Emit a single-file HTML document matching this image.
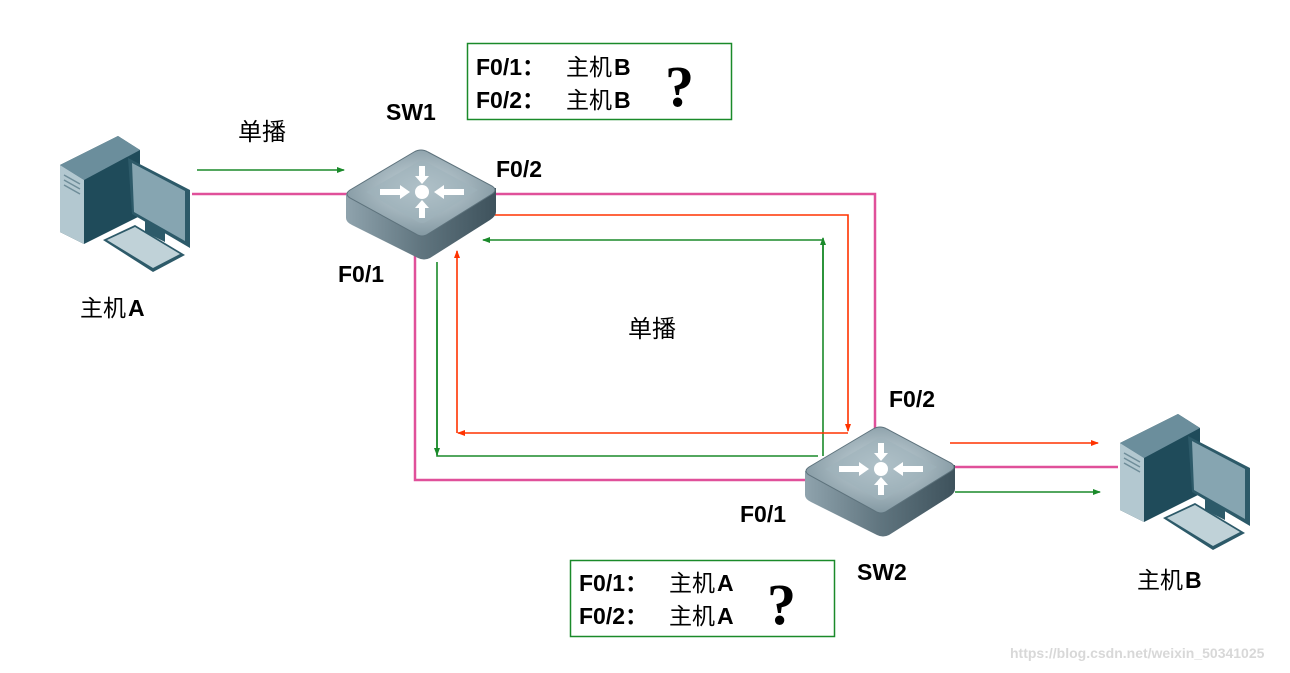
<!DOCTYPE html>
<html><head><meta charset="utf-8"><style>
body{margin:0;background:#fff;width:1290px;height:668px;overflow:hidden}
text{font-family:"Liberation Sans","Noto Sans CJK SC",sans-serif;font-weight:bold;fill:#000}
.c{font-weight:normal}
</style></head><body>
<svg width="1290" height="668" viewBox="0 0 1290 668" xmlns="http://www.w3.org/2000/svg">
<defs>
<marker id="ag" markerWidth="8" markerHeight="8" refX="7" refY="4" orient="auto" markerUnits="userSpaceOnUse"><path d="M0,1 L8,4 L0,7z" fill="#1a8a2a"/></marker>
<marker id="ar" markerWidth="8" markerHeight="8" refX="7" refY="4" orient="auto" markerUnits="userSpaceOnUse"><path d="M0,1 L8,4 L0,7z" fill="#ff3300"/></marker>
<linearGradient id="sside" x1="0" x2="1"><stop offset="0" stop-color="#8fa3ad"/><stop offset="0.5" stop-color="#60757f"/><stop offset="1" stop-color="#3e525c"/></linearGradient>
<radialGradient id="stop" cx="0.5" cy="0.45" r="0.6"><stop offset="0" stop-color="#c9d6dc"/><stop offset="1" stop-color="#7d939d"/></radialGradient>
<g id="sw">
<path d="M0,46 L0,70 Q0,74 6,77 L72,110 Q78,113 84,110 L144,72 Q150,68 150,64 L150,40 Z" fill="url(#sside)"/>
<path d="M4,42 L68,4 Q75,0 82,4 L146,38 Q152,42 146,46 L82,86 Q76,90 70,86 L4,50 Q-2,46 4,42Z" fill="url(#stop)" stroke="#5d727c" stroke-width="1"/>
<path d="M20,44 L72,14 Q76,12 80,14 L132,42 L80,74 Q76,76 72,74Z" fill="#9fb2ba" opacity="0.6"/>
<circle cx="76" cy="44" r="7" fill="#fff"/>
<path d="M73,18 h6 v10 h4 l-7,8 l-7,-8 h4z M73,70 h6 v-10 h4 l-7,-8 l-7,8 h4z M34,41 h20 v-4 l10,7 l-10,7 v-4 h-20z M118,41 h-20 v-4 l-10,7 l10,7 v-4 h20z" fill="#fff"/>
</g>
<g id="pc">
<path d="M20,35 L78,6 L100,20 L100,86 L44,114 L20,102Z" fill="#1f4b5a"/>
<path d="M20,35 L78,6 L100,20 L44,50Z" fill="#6b8e9c"/>
<path d="M20,35 L44,50 L44,114 L20,102Z" fill="#b3c8d0"/>
<path d="M24,45 L40,54 M24,50 L40,59 M24,55 L40,64" stroke="#6f8d99" stroke-width="1.5"/>
<path d="M88,28 L150,60 L150,118 L92,84Z" fill="#2d5a69"/>
<path d="M92,33 L145,61 L145,111 L94,82Z" fill="#86a5b1"/>
<path d="M105,90 L125,100 L125,112 L105,102Z" fill="#2d5a69"/>
<path d="M63,110 L95,95 L145,125 L113,142Z" fill="#2d5a69"/>
<path d="M67,110 L95,97 L140,124 L113,138Z" fill="#c0d2d8"/>
</g>
</defs>
<g fill="none" stroke="#e0509a" stroke-width="2.5">
<path d="M192,194 H348"/>
<path d="M495,194 H875 V428"/>
<path d="M415,250 V480 H812"/>
<path d="M955,467 H1118"/>
</g>
<g fill="none" stroke="#1a8a2a" stroke-width="1.6">
<path d="M197,170 H344" marker-end="url(#ag)"/>
<path d="M823,456 V240 H483" marker-end="url(#ag)"/>
<path d="M437,262 V456 H818" />
<path d="M437,300 V455" marker-end="url(#ag)"/>
<path d="M955,492 H1100" marker-end="url(#ag)"/>
<path d="M823,300 V238" marker-end="url(#ag)"/>
</g>
<g fill="none" stroke="#ff3300" stroke-width="1.6">
<path d="M495,215 H848 V431" marker-end="url(#ar)"/>
<path d="M848,433 H458" marker-end="url(#ar)"/>
<path d="M457,433 V251" marker-end="url(#ar)"/>
<path d="M950,443 H1098" marker-end="url(#ar)"/>
</g>
<use href="#sw" x="346" y="148"/>
<use href="#sw" x="805" y="425"/>
<use href="#pc" x="40" y="130"/>
<use href="#pc" x="1100" y="408"/>
<rect x="467.5" y="43.5" width="264" height="76" fill="#fff" stroke="#1a8a2a" stroke-width="1.5"/>
<rect x="570.5" y="560.5" width="264" height="76" fill="#fff" stroke="#1a8a2a" stroke-width="1.5"/>
<g font-size="23">
<text x="476" y="75">F0/1：</text><text class="c" x="566" y="75">主机</text><text x="614" y="75">B</text>
<text x="476" y="108">F0/2：</text><text class="c" x="566" y="108">主机</text><text x="614" y="108">B</text>
<text x="579" y="591">F0/1：</text><text class="c" x="669" y="591">主机</text><text x="717" y="591">A</text>
<text x="579" y="624">F0/2：</text><text class="c" x="669" y="624">主机</text><text x="717" y="624">A</text>
<text x="386" y="120">SW1</text>
<text x="496" y="177">F0/2</text>
<text x="338" y="282">F0/1</text>
<text class="c" x="80" y="316">主机</text><text x="128" y="316">A</text>
<text x="889" y="407">F0/2</text>
<text x="740" y="522">F0/1</text>
<text x="857" y="580">SW2</text>
<text class="c" x="1137" y="588">主机</text><text x="1185" y="588">B</text>
</g>
<text x="665" y="106" font-size="58" font-weight="normal" style="font-family:'Liberation Serif',serif">?</text>
<text x="767" y="624" font-size="58" font-weight="normal" style="font-family:'Liberation Serif',serif">?</text>
<text class="c" x="238" y="140" font-size="24">单播</text>
<text class="c" x="628" y="337" font-size="24">单播</text>
<text x="1010" y="658" font-size="14" font-weight="normal" style="fill:#d8d8d8">https://blog.csdn.net/weixin_50341025</text>
</svg>
</body></html>
